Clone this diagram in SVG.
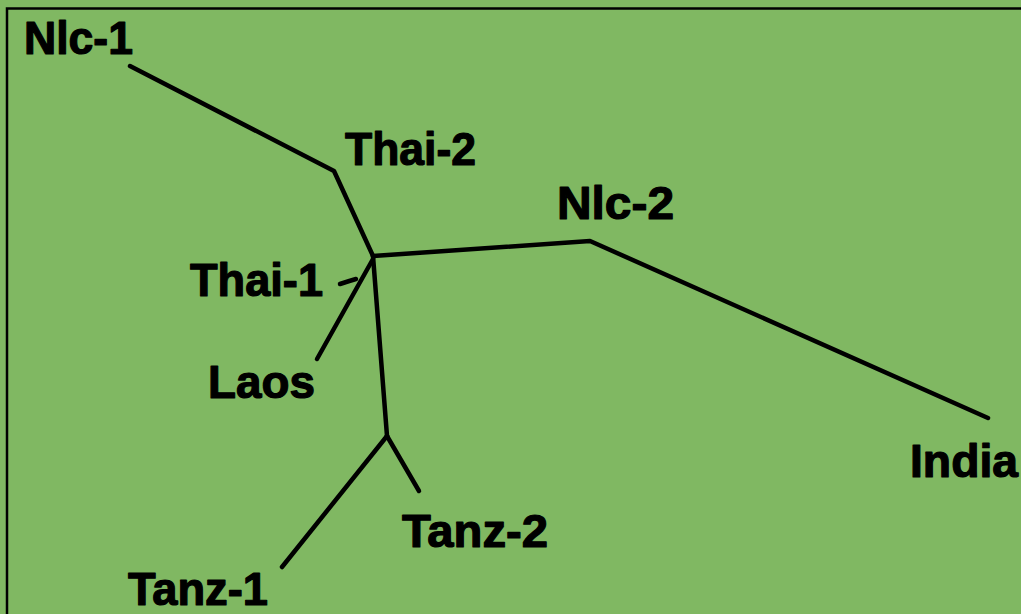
<svg xmlns="http://www.w3.org/2000/svg" width="1021" height="614" viewBox="0 0 1021 614">
<style>
.bg{fill:#80b862}
.frame{fill:none;stroke:#000;stroke-width:2.5}
.br{fill:none;stroke:#000;stroke-width:4.5;stroke-linecap:round;stroke-linejoin:round}
.lbl{font-family:"Liberation Sans",Arial,sans-serif;font-weight:bold;font-size:46px;fill:#000;stroke:#000;stroke-width:1.2;stroke-linejoin:round}
</style>
<rect class="bg" x="0" y="0" width="1021" height="614"/>
<path class="frame" d="M7,614 V8.5 H1021"/>
<g id="connectors">
<polyline class="br" points="130,66 334,171 373,256"/>
<polyline class="br" points="373,256 590,241 988,418"/>
<polyline class="br" points="373,256 387,436"/>
<path class="br" d="M373,259 L317,359"/>
<path class="br" d="M340,284 Q349,281 356,279"/>
<polyline class="br" points="387,436 282,567"/>
<polyline class="br" points="387,436 419,491"/>
</g>
<g id="nic1"><text class="lbl" x="24" y="54" textLength="109" lengthAdjust="spacingAndGlyphs">Nlc-1</text></g>
<g id="thai2"><text class="lbl" x="345" y="165" textLength="131" lengthAdjust="spacingAndGlyphs">Thai-2</text></g>
<g id="nic2"><text class="lbl" x="557" y="219" textLength="117" lengthAdjust="spacingAndGlyphs">Nlc-2</text></g>
<g id="thai1"><text class="lbl" x="190" y="296" textLength="133" lengthAdjust="spacingAndGlyphs">Thai-1</text></g>
<g id="laos"><text class="lbl" x="208" y="398" textLength="107" lengthAdjust="spacingAndGlyphs">Laos</text></g>
<g id="india"><text class="lbl" x="910" y="477" textLength="108" lengthAdjust="spacingAndGlyphs">India</text></g>
<g id="tanz2"><text class="lbl" x="402" y="547" textLength="146" lengthAdjust="spacingAndGlyphs">Tanz-2</text></g>
<g id="tanz1"><text class="lbl" x="128" y="605" textLength="140" lengthAdjust="spacingAndGlyphs">Tanz-1</text></g>
</svg>
